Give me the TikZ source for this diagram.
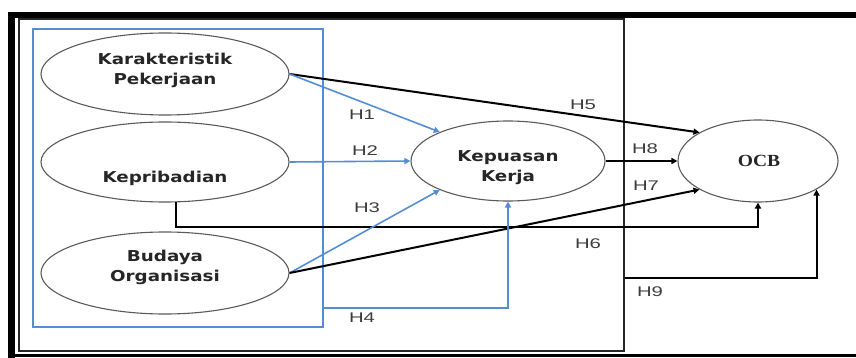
\documentclass[tikz,border=0pt]{standalone}
\usepackage{fontspec}
\usetikzlibrary{shapes.geometric,arrows.meta}
\newfontfamily\elfont[FakeStretch=1.22]{DejaVu Sans}
\newfontfamily\hfont[FakeStretch=1.45]{Liberation Sans}
\newfontfamily\ocbfont[FakeStretch=1.15]{Liberation Serif}
\definecolor{myblue}{RGB}{84,141,212}
\definecolor{elgray}{RGB}{90,90,90}
\definecolor{hgray}{RGB}{60,60,60}
\tikzset{
  ell/.style={draw=elgray, line width=1.1pt, ellipse, inner sep=0pt},
  eltext/.style={font={\elfont\bfseries\fontsize{15}{20}\selectfont}, align=center, text=black!85, inner sep=0pt},
  hl/.style={font={\hfont\fontsize{14}{16}\selectfont}, text=hgray, inner sep=0pt},
  blk/.style={draw=black, line width=2pt, -{Triangle[length=6pt,width=6pt]}},
  blu/.style={draw=myblue, line width=1.6pt, -{Triangle[length=6pt,width=6pt]}},
}
\begin{document}
\begin{tikzpicture}[x=1pt,y=-1pt]
\useasboundingbox (0,0) rectangle (856,358);
% outer frame
\draw[line width=6pt] (8,15) -- (856,15);
\draw[line width=7pt] (11.5,12) -- (11.5,358);
\draw[line width=3pt] (8,355.5) -- (856,355.5);
% inner rectangle
\node[draw=black!85, line width=1.6pt, minimum width=605pt, minimum height=332pt, inner sep=0pt, anchor=north west] (inner) at (18,18) {};
% blue group box
\node[draw=myblue, line width=1.8pt, minimum width=290pt, minimum height=298pt, inner sep=0pt, anchor=north west] (grp) at (32,28) {};
% ellipses
\node[ell, minimum width=248pt, minimum height=82pt] (kar) at (165,74) {};
\node[eltext] (kartxt) at (165,70) {Karakteristik\\Pekerjaan};
\node[ell, minimum width=248pt, minimum height=80pt] (kep) at (165,162) {};
\node[eltext] (keptxt) at (165,178) {Kepribadian};
\node[ell, minimum width=248pt, minimum height=82pt] (bud) at (165,273) {};
\node[eltext] (budtxt) at (165,267) {Budaya\\Organisasi};
\node[ell, minimum width=194pt, minimum height=80pt] (kp) at (508,161) {};
\node[eltext] (kptxt) at (508,168) {Kepuasan\\Kerja};
\node[ell, minimum width=160pt, minimum height=82pt] (ocb) at (758,161) {};
\node[font={\ocbfont\bfseries\fontsize{17}{20}\selectfont}, inner sep=0pt, text=black!85] (ocbtxt) at (759,161) {OCB};
% helper coordinates for elbow connectors
\coordinate (h6y) at (0,227);
\coordinate (h4y) at (0,308);
\coordinate (h9y) at (0,278);
% connectors
\draw[blk] (kar.east) -- (ocb.154);
\draw[blu] (kar.east) -- (kp.157);
\draw[blu] (kep.east) -- (kp.west);
\draw[blk] (kp.east) -- (ocb.west);
\draw[blk] (kep.-75) -- (kep.-75 |- h6y) -| (ocb.south);
\draw[blu] (bud.east) -- (kp.-157);
\draw[blk] (bud.east) -- (ocb.-154);
\draw[blu] (grp.east |- h4y) -| (kp.south);
\draw[blk] (inner.east |- h9y) -| (ocb.-26);
% labels
\node[hl] (h1) at (362,115) {H1};
\node[hl] (h2) at (365,151) {H2};
\node[hl] (h3) at (367,208) {H3};
\node[hl] (h4) at (362,318) {H4};
\node[hl] (h5) at (583,105) {H5};
\node[hl] (h6) at (588,244) {H6};
\node[hl] (h7) at (646,186) {H7};
\node[hl] (h8) at (645,149) {H8};
\node[hl] (h9) at (650,292) {H9};
\end{tikzpicture}
\end{document}
